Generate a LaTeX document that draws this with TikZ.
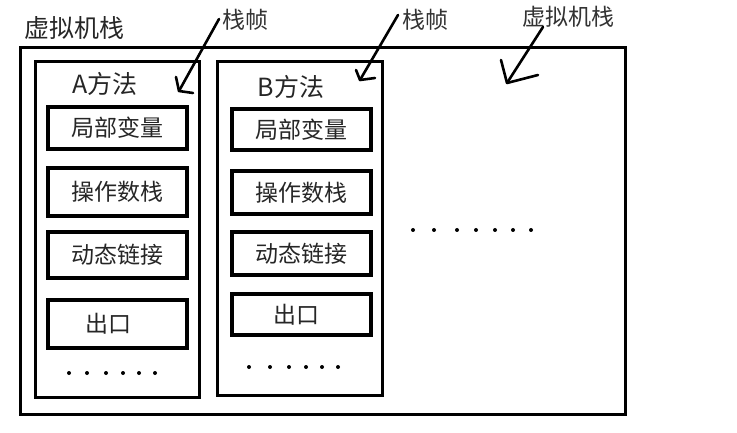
\documentclass[tikz,border=0pt]{standalone}
\usepackage{fontspec}
\newfontfamily\cjk{Noto Sans CJK SC}
\tikzset{
  frame/.style={draw=black, line width=3pt, rectangle, inner sep=0pt},
  itembox/.style={draw=black, line width=3.2pt, rectangle, inner sep=0pt, minimum width=139pt, font=\cjk\fontsize{23}{25}\selectfont, text=black!85},
  lbl/.style={inner sep=0pt, font=\cjk\fontsize{23}{25}\selectfont, text=black!80},
  ttl/.style={inner sep=0pt, font=\cjk\fontsize{25}{27}\selectfont, text=black!85},
  pen/.style={line width=2.6pt, line cap=round, line join=round},
  dot/.style={circle, fill=black, inner sep=0pt, minimum size=4pt}
}
\begin{document}
\begin{tikzpicture}[x=1pt, y=-1pt]
\useasboundingbox (0,0) rectangle (737,433);
% outer frame
\node[frame, minimum width=605pt, minimum height=366pt] (outer) at (322.5,231) {};
\node[frame, minimum width=164pt, minimum height=335pt] (fa) at (117,229.5) {};
\node[frame, minimum width=165pt, minimum height=333pt] (fb) at (299.5,228.5) {};
% titles
\node[ttl, font=\cjk\fontsize{25}{27}\selectfont] (t1) at (74,28) {虚拟机栈};
\node[lbl] (l1) at (245,20) {栈帧};
\node[lbl] (l2) at (425,20) {栈帧};
\node[lbl] (l3) at (568,17) {虚拟机栈};
\node[ttl] (ta) at (105,84) {A方法};
\node[ttl] (tb) at (291,87) {B方法};
% A items
\node[itembox, minimum height=42pt] (a1) at (117.5,128) {局部变量};
\node[itembox, minimum height=48pt] (a2) at (117.5,192) {操作数栈};
\node[itembox, minimum height=46pt] (a3) at (117.5,255) {动态链接};
\node[itembox, minimum height=48pt] (a4) at (117.5,324) {\hspace*{-18pt}出口};
% B items
\node[itembox, minimum height=41pt] (b1) at (301.5,129.5) {局部变量};
\node[itembox, minimum height=43pt] (b2) at (301.5,192.5) {操作数栈};
\node[itembox, minimum height=43pt] (b3) at (301.5,253.5) {动态链接};
\node[itembox, minimum height=41pt] (b4) at (301.5,314.5) {\hspace*{-10pt}出口};
% dots
\foreach \x [count=\i] in {69,87,106,123,139,155} \node[dot] (da\i) at (\x,373) {};
\foreach \x [count=\i] in {249,270,289,306,322,338} \node[dot] (db\i) at (\x,367) {};
\foreach \x [count=\i] in {413,434,457,476,495,513,531} \node[dot] (dc\i) at (\x,230) {};
% arrows (hand drawn)
\coordinate (s1) at (219,19);
\coordinate (t1p) at (179,91);
\coordinate (h1a) at (176,77);
\coordinate (h1b) at (193,93);
\draw[pen] (s1) -- (t1p);
\draw[pen] (h1a) -- (t1p) -- (h1b);
\coordinate (s2) at (398,15);
\coordinate (t2p) at (360,80);
\coordinate (h2a) at (356,70);
\coordinate (h2b) at (375,78);
\draw[pen] (s2) -- (t2p);
\draw[pen] (h2a) -- (t2p) -- (h2b);
\coordinate (s3) at (543,27);
\coordinate (t3p) at (507,83);
\coordinate (h3a) at (501,60);
\coordinate (h3b) at (538,75);
\draw[pen] (s3) -- (t3p);
\draw[pen] (h3a) -- (t3p) -- (h3b);
\end{tikzpicture}
\end{document}
